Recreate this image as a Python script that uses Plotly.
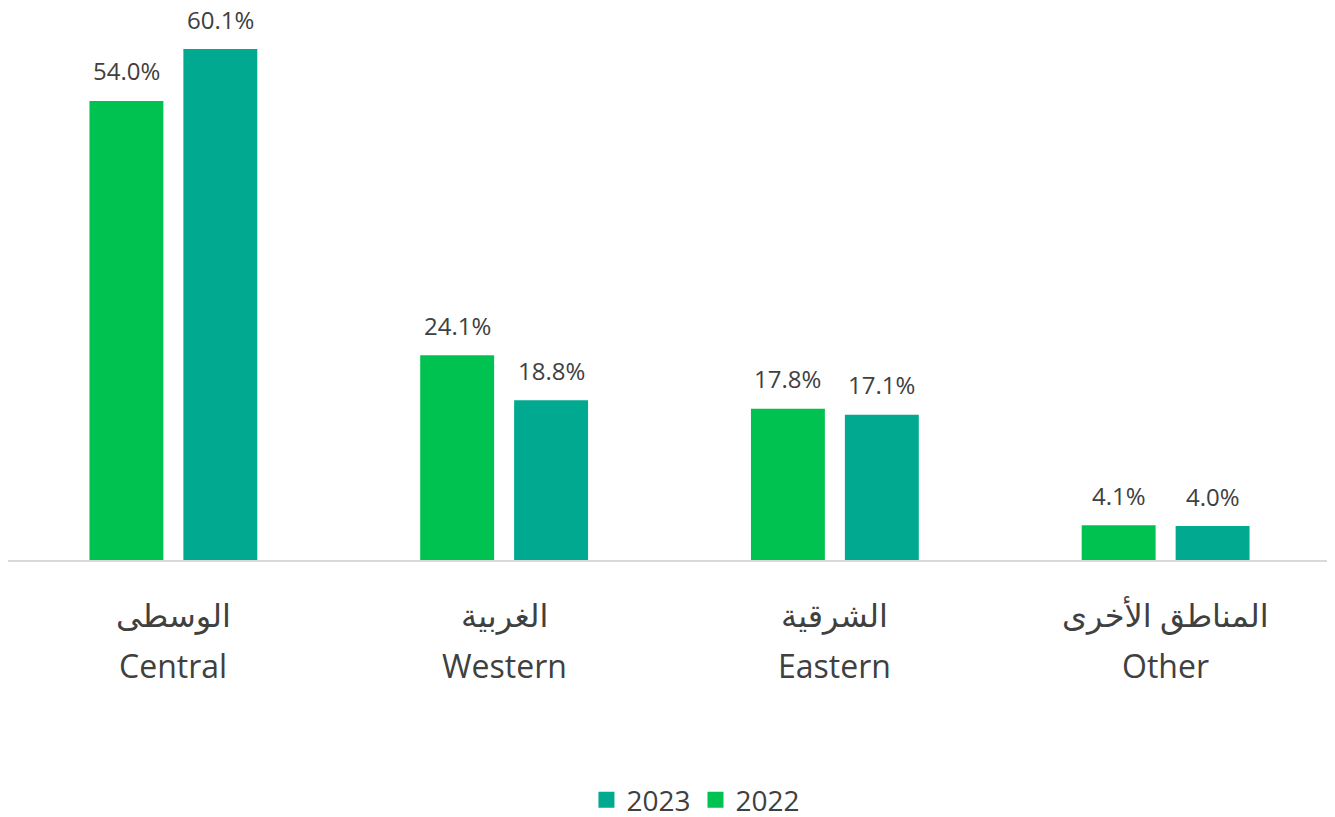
import plotly.graph_objects as go

regions_ar = ["الوسطى", "الغربية", "الشرقية", "المناطق الأخرى"]
regions_en = ["Central", "Western", "Eastern", "Other"]
share_2022 = [54.0, 24.1, 17.8, 4.1]
share_2023 = [60.1, 18.8, 17.1, 4.0]

green = "#00C250"
teal = "#00A98F"
text_col = "#404040"
font_family = "'Open Sans', 'Noto Sans', 'DejaVu Sans', sans-serif"

W, H = 1335, 817
ml, mr = 0, 12
bargap, bargroupgap = 0.432, 0.213

fig = go.Figure()
fig.add_trace(go.Bar(x=regions_en, y=share_2022, name="2022", showlegend=False,
                     marker=dict(color=green, line=dict(width=0))))
fig.add_trace(go.Bar(x=regions_en, y=share_2023, name="2023", showlegend=False,
                     marker=dict(color=teal, line=dict(width=0))))

# legend entries with bigger square swatches
for name, col in (("2022", green), ("2023", teal)):
    fig.add_trace(go.Scatter(x=[None], y=[None], mode="markers", name=name,
                             marker=dict(symbol="square", size=18, color=col)))

# value labels above each bar (shifted to the bar's slot inside the group)
cat_px = (W - ml - mr) / len(regions_en)
slot_px = cat_px * (1 - bargap) / 2
for vals, sign in ((share_2022, -1), (share_2023, 1)):
    for cat, v in zip(regions_en, vals):
        fig.add_annotation(x=cat, y=v, xref="x", yref="y", text=f"{v:.1f}%",
                           showarrow=False, xshift=sign * slot_px / 2,
                           yshift=30, yanchor="middle",
                           font=dict(size=24, color=text_col))

# two-line category labels: Arabic above, English below
for ar, en in zip(regions_ar, regions_en):
    fig.add_annotation(x=en, y=0, xref="x", yref="y", text=ar, showarrow=False,
                       yshift=-54, yanchor="middle",
                       font=dict(size=32, color=text_col))
    fig.add_annotation(x=en, y=0, xref="x", yref="y", text=en, showarrow=False,
                       yshift=-105, yanchor="middle",
                       font=dict(size=32, color=text_col))

fig.update_layout(
    width=W, height=H,
    margin=dict(l=ml, r=mr, t=2, b=264),
    paper_bgcolor="white", plot_bgcolor="white",
    font=dict(family=font_family, color=text_col),
    barmode="group", bargap=bargap, bargroupgap=bargroupgap,
    legend=dict(orientation="h", traceorder="reversed", itemsizing="trace",
                x=0.52, xanchor="center", y=-0.437, yanchor="middle",
                font=dict(size=28, color=text_col)),
    xaxis=dict(showticklabels=False, showline=True, linecolor="#d9d9d9",
               linewidth=2, ticks="", showgrid=False),
    yaxis=dict(range=[0, 64.7], visible=False, showgrid=False, zeroline=False),
)

fig.write_html("out.html")
